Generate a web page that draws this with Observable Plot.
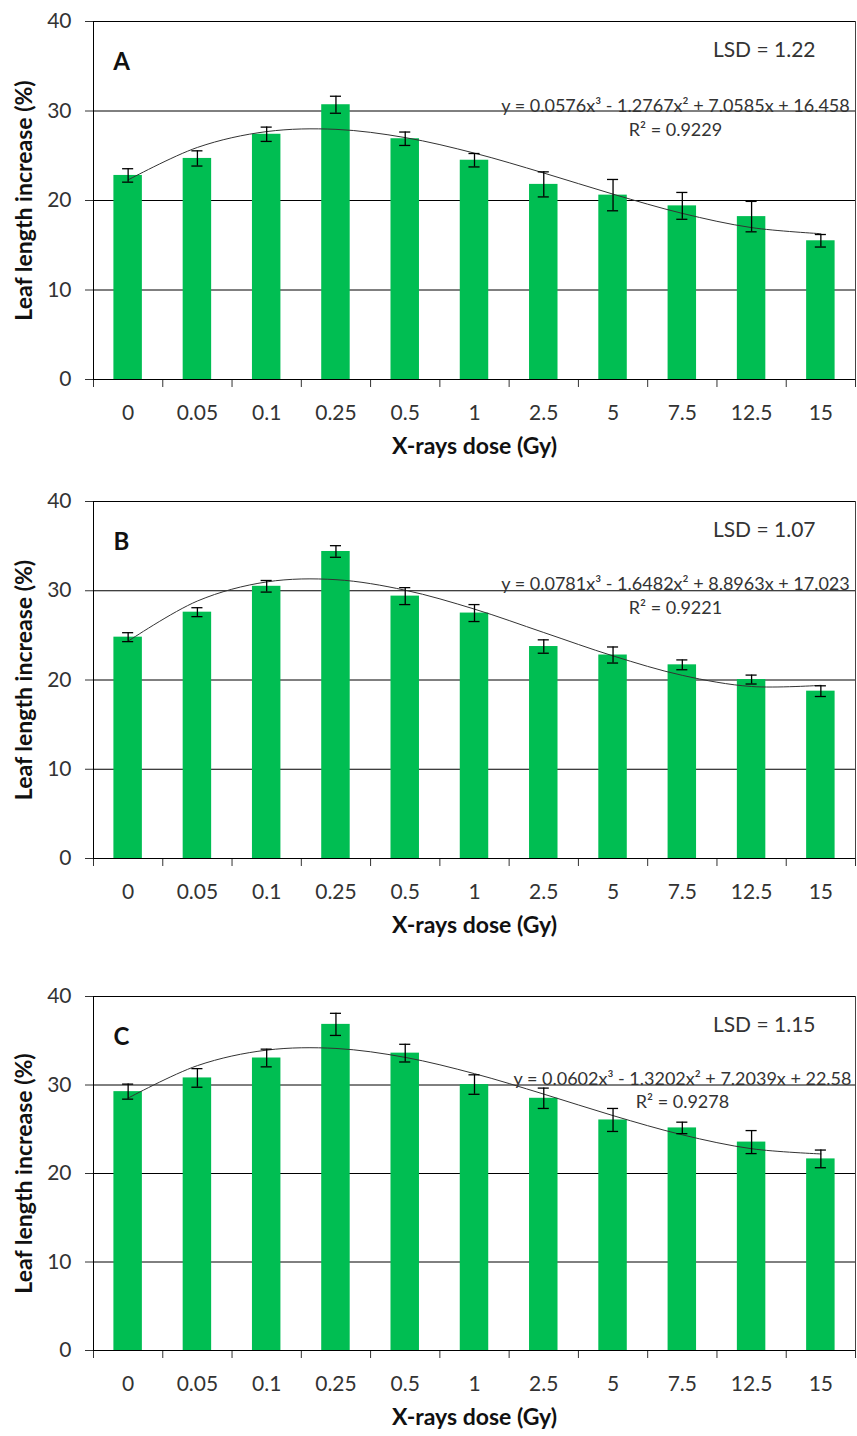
<!DOCTYPE html>
<html>
<head>
<meta charset="utf-8">
<script src="https://cdn.jsdelivr.net/npm/d3@7"></script>
<script src="https://cdn.jsdelivr.net/npm/@observablehq/plot@0.6"></script>
<style>
  html, body { margin: 0; padding: 0; background: #fff; }
  #chart svg { display: block; }
</style>
</head>
<body>
<div id="chart"></div>
<script>
// ---- data ----
const doses = ["0", "0.05", "0.1", "0.25", "0.5", "1", "2.5", "5", "7.5", "12.5", "15"];
const yTicks = [0, 10, 20, 30, 40];

const meanA = [22.8, 24.7, 27.4, 30.7, 26.9, 24.5, 21.8, 20.6, 19.4, 18.2, 15.5];
const errA  = [0.75, 0.85, 0.8, 0.95, 0.75, 0.75, 1.4, 1.75, 1.5, 1.7, 0.7];
const trendA = [22.30, 25.93, 27.70, 27.95, 27.03, 25.29, 23.07, 20.71, 18.56, 16.97, 16.29];

const meanB = [24.8, 27.6, 30.5, 34.4, 29.4, 27.5, 23.75, 22.8, 21.7, 20.05, 18.75];
const errB  = [0.5, 0.5, 0.65, 0.65, 0.95, 0.95, 0.75, 0.9, 0.55, 0.5, 0.6];
const trendB = [24.35, 28.85, 30.99, 31.24, 30.06, 27.94, 25.32, 22.70, 20.52, 19.27, 19.40];

const meanC = [29.25, 30.8, 33.05, 36.85, 33.6, 30.05, 28.5, 26.05, 25.15, 23.55, 21.65];
const errC  = [0.85, 1.05, 1.0, 1.25, 1.0, 1.1, 1.15, 1.3, 0.65, 1.3, 1.0];
const trendC = [28.52, 32.19, 33.94, 34.13, 33.12, 31.28, 28.97, 26.54, 24.37, 22.80, 22.21];

const panelLetters = ["A", "B", "C"];
const lsdTexts = ["LSD = 1.22", "LSD = 1.07", "LSD = 1.15"];
const eqTexts = [
  "y = 0.0576x³ - 1.2767x² + 7.0585x + 16.458",
  "y = 0.0781x³ - 1.6482x² + 8.8963x + 17.023",
  "y = 0.0602x³ - 1.3202x² + 7.2039x + 22.58"
];
const r2Texts = ["R² = 0.9229", "R² = 0.9221", "R² = 0.9278"];
const yTitle = "Leaf length increase (%)";
const xTitle = "X-rays dose (Gy)";

// ---- layout ----
const layouts = [
  {height: 470, marginTop: 21, marginBottom: 91, eqDx: 582, eqDy: 78, r2Dy: 101.5},
  {height: 470, marginTop: 31, marginBottom: 82, eqDx: 582, eqDy: 76, r2Dy: 100},
  {height: 496, marginTop: 56, marginBottom: 86, eqDx: 589, eqDy: 75.5, r2Dy: 99}
];

const GREEN = "#00BE52";
const FONT = "Lato, 'Open Sans', sans-serif";
const boundaries = d3.range(doses.length + 1);

function panel(k, means, errs, trend) {
  const L = layouts[k];
  const rows = doses.map((d, i) => ({i, dose: d, v: means[i], e: errs[i], t: trend[i]}));
  const caps = rows.flatMap(r => [{i: r.i, y: r.v - r.e}, {i: r.i, y: r.v + r.e}]);
  return Plot.plot({
    width: 857,
    height: L.height,
    marginLeft: 93,
    marginRight: 2,
    marginTop: L.marginTop,
    marginBottom: L.marginBottom,
    style: {fontFamily: FONT, fontSize: "21px", color: "#333", background: "#fff"},
    x: {domain: [0, doses.length], ticks: boundaries, tickFormat: () => "", tickSize: 8, label: null},
    y: {domain: [0, 40], ticks: yTicks, tickSize: 8, tickPadding: 14, label: null},
    marks: [
      Plot.ruleY(yTicks.slice(1), {stroke: "#000", strokeWidth: 1}),
      Plot.rectY(rows, {x1: d => d.i, x2: d => d.i + 1, y1: 0, y2: "v", fill: GREEN, insetLeft: 20.4, insetRight: 20.4}),
      Plot.line(rows, {x: d => d.i + 0.5, y: "t", curve: "catmull-rom", stroke: "#333", strokeWidth: 1}),
      Plot.ruleX(rows, {x: d => d.i + 0.5, y1: d => d.v - d.e, y2: d => d.v + d.e, stroke: "#000", strokeWidth: 1.3}),
      Plot.ruleY(caps, {y: "y", x1: d => d.i + 0.5 - 0.08, x2: d => d.i + 0.5 + 0.08, stroke: "#000", strokeWidth: 1.3}),
      Plot.ruleX([0], {y1: 0, y2: 40, stroke: "#000", strokeWidth: 1}),
      Plot.ruleX([doses.length], {y1: 0, y2: 40, stroke: "#444", strokeWidth: 1}),
      Plot.ruleY([0], {stroke: "#000", strokeWidth: 1}),
      Plot.text(rows, {x: d => d.i + 0.5, y: 0, text: "dose", dy: 34, fontSize: 21, fill: "#333"}),
      Plot.text([panelLetters[k]], {frameAnchor: "top-left", textAnchor: "middle", dx: 28, dy: 31, fontSize: 24, fontWeight: "bold", fill: "#111"}),
      Plot.text([lsdTexts[k]], {frameAnchor: "top-right", textAnchor: "end", dx: -40, dy: 21, fontSize: 21, fill: "#333"}),
      Plot.text([eqTexts[k]], {frameAnchor: "top-left", textAnchor: "middle", dx: L.eqDx, dy: L.eqDy, fontSize: 18, fill: "#333"}),
      Plot.text([r2Texts[k]], {frameAnchor: "top-left", textAnchor: "middle", dx: L.eqDx, dy: L.r2Dy, fontSize: 18, fill: "#333"}),
      Plot.text([yTitle], {frameAnchor: "left", textAnchor: "middle", rotate: -90, dx: -69, fontSize: 23, fontWeight: "bold", fill: "#111"}),
      Plot.text([xTitle], {frameAnchor: "bottom", textAnchor: "middle", dy: 74, fontSize: 23, fontWeight: "bold", fill: "#111"})
    ]
  });
}

const chart = document.getElementById("chart");
chart.appendChild(panel(0, meanA, errA, trendA));
chart.appendChild(panel(1, meanB, errB, trendB));
chart.appendChild(panel(2, meanC, errC, trendC));
</script>
</body>
</html>
